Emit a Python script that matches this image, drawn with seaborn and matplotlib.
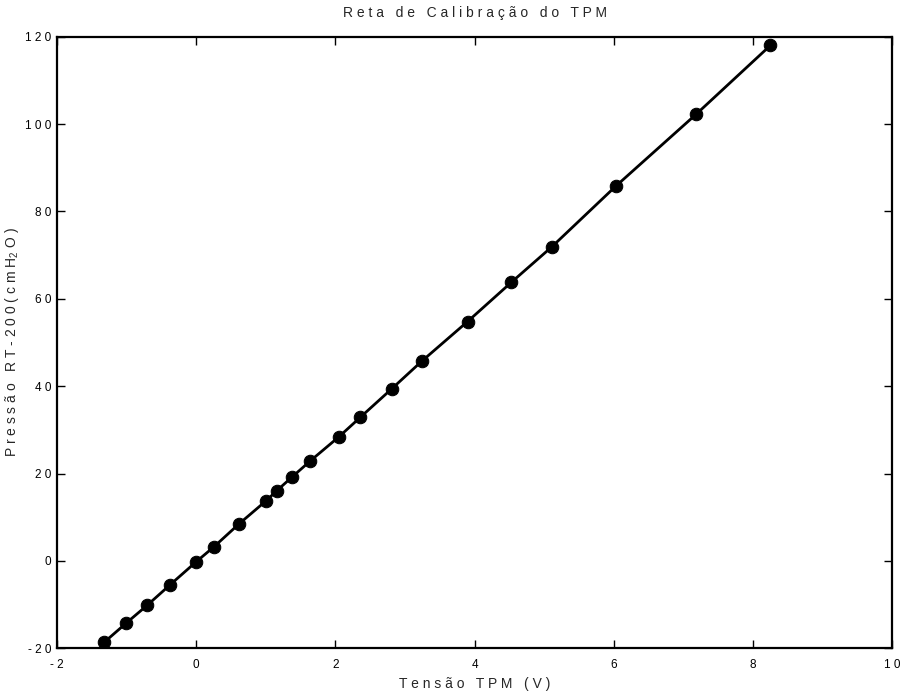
import numpy as np
import pandas as pd
import seaborn as sns
import matplotlib.pyplot as plt

# Calibration points
tensao = [-1.32, -1.01, -0.70, -0.37, 0.0, 0.26, 0.61, 1.00, 1.16, 1.37,
          1.64, 2.05, 2.36, 2.81, 3.24, 3.90, 4.53, 5.11, 6.03, 7.18, 8.25]
pressao = [-18.6, -14.3, -10.1, -5.4, -0.2, 3.3, 8.4, 13.7, 16.1, 19.1,
           22.9, 28.4, 32.9, 39.4, 45.7, 54.8, 63.8, 71.9, 85.8, 102.2, 118.0]

x_ticks = [-2, 0, 2, 4, 6, 8, 10]
y_ticks = [-20, 0, 20, 40, 60, 80, 100, 120]


def spaced(s):
    # MATLAB-like letter spacing
    return ' '.join(list(s))


df = pd.DataFrame({'tensao': tensao, 'pressao': pressao})

sns.set_style('white')
plt.rcParams['font.family'] = ['Liberation Sans Narrow', 'Liberation Sans', 'DejaVu Sans']
plt.rcParams['mathtext.fontset'] = 'custom'
plt.rcParams['mathtext.rm'] = 'Liberation Sans'

fig = plt.figure(figsize=(9, 6.95), dpi=100)
ax = fig.add_axes([0.0633, 0.0672, 0.928, 0.880])

sns.lineplot(data=df, x='tensao', y='pressao', ax=ax, color='black',
             linewidth=2, marker='o', markersize=9, markeredgecolor='black',
             markerfacecolor='black', sort=False)

ax.set_xlim(-2, 10)
ax.set_ylim(-20, 120)
ax.set_xticks(x_ticks)
ax.set_yticks(y_ticks)
ax.set_xticklabels([spaced(str(t)) for t in x_ticks], fontsize=8.5)
ax.set_yticklabels([spaced(str(t)) for t in y_ticks], fontsize=8.5)
ax.tick_params(axis='x', pad=8)
ax.tick_params(axis='y', pad=4)
ax.tick_params(direction='in', length=6, width=1, top=True, right=True,
               bottom=True, left=True, colors='black')

for sp in ax.spines.values():
    sp.set_visible(True)
    sp.set_color('black')
    sp.set_linewidth(1.6)

ax.set_title(spaced('Reta de Calibração do TPM'), fontsize=10, pad=14)
ax.set_xlabel(spaced('Tensão TPM (V)'), fontsize=10, labelpad=4)
ax.set_ylabel(spaced('Pressão RT-200(cmH') + r'$_{\mathregular{2}}$' + ' O )',
              fontsize=10, labelpad=3)

fig.savefig('out.png', dpi=100)
